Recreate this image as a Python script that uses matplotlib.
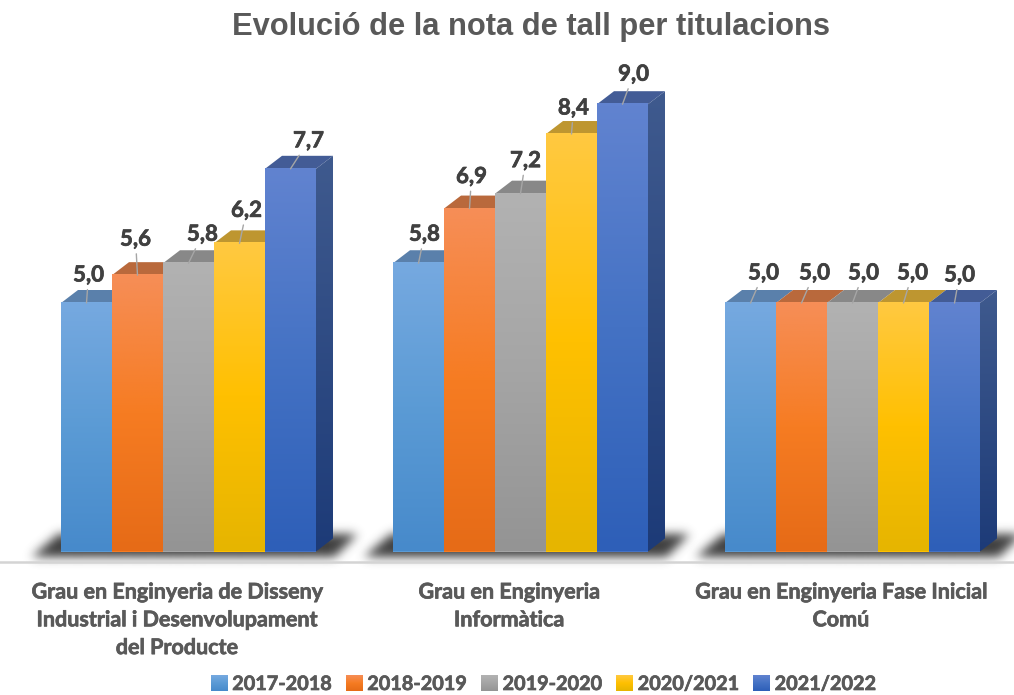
import numpy as np
import matplotlib
matplotlib.use('Agg')
import matplotlib.pyplot as plt
import matplotlib.patheffects as pe
from matplotlib.colors import LinearSegmentedColormap
from matplotlib.patches import Patch, Polygon

title = 'Evolució de la nota de tall per titulacions'
categories = ['Grau en Enginyeria de Disseny\nIndustrial i Desenvolupament\ndel Producte',
              'Grau en Enginyeria\nInformàtica',
              'Grau en Enginyeria Fase Inicial\nComú']
years = ['2017-2018', '2018-2019', '2019-2020', '2020/2021', '2021/2022']
v_2017 = [5.0, 5.8, 5.0]
v_2018 = [5.56, 6.9, 5.0]
v_2019 = [5.8, 7.2, 5.0]
v_2020 = [6.2, 8.4, 5.0]
v_2021 = [7.7, 9.0, 5.0]
series = [v_2017, v_2018, v_2019, v_2020, v_2021]

# front gradient top/mid/bottom, then top face and side face
front_cols = [['#76A9E0', '#5B9BD5', '#478ACB'],
              ['#F68E57', '#F67C22', '#E66B17'],
              ['#B2B2B2', '#A5A5A5', '#949494'],
              ['#FFC941', '#FFC000', '#E6B500'],
              ['#6183D0', '#4472C4', '#2E5FB8']]
top_cols = ['#5A80AB', '#B9693C', '#888888', '#BE9630', '#435C96']
legend_cols = ['#5B9BD5', '#F67C22', '#A5A5A5', '#FFC000', '#4472C4']
side_top, side_bot = '#3F5A8E', '#1D3B78'

# label offset from the front top of each bar, in pixels
label_off = [[(2, 28), (-2, 36), (14, 29), (7, 33), (18, 28)],
             [(6, 29), (2, 32), (5, 33), (2, 26), (11, 30)],
             [(13, 30), (13, 30), (11, 30), (9, 30), (5, 28)]]

W, H = 1014, 695
PX_X = 332.0      # pixels per category
PX_Y = 49.7       # pixels per grade point
X0, Y0 = 188.5, 551.5  # pixel position of first group centre / zero line
bar_w = 51 / PX_X
dx = 17 / PX_X
dy = 13 / PX_Y

fig = plt.figure(figsize=(W / 100, H / 100), dpi=100)
ax = fig.add_axes([0, 0, 1, 1])
ax.axis('off')


def gradient(cols, extent, zorder):
    cmap = LinearSegmentedColormap.from_list('g', cols)
    img = np.linspace(0, 1, 128).reshape(-1, 1)
    return ax.imshow(img, cmap=cmap, extent=extent, aspect='auto', origin='upper',
                     zorder=zorder, interpolation='bilinear')


def blur(a, s):
    t = np.arange(-3 * s, 3 * s + 1)
    k = np.exp(-t ** 2 / (2.0 * s ** 2))
    k = k / k.sum()
    a = np.apply_along_axis(lambda r: np.convolve(r, k, mode='same'), 0, a)
    a = np.apply_along_axis(lambda r: np.convolve(r, k, mode='same'), 1, a)
    return a


# soft shadow under a group
def shadow(center):
    rows, cols = 62, 400
    yy, xx = np.mgrid[0:rows, 0:cols]
    t = (yy - 19) / 22.0
    left = 64 - 26 * t
    right = 362 - 22 * t
    mask = ((yy >= 19) & (yy <= 41) & (xx >= left) & (xx <= right)).astype(float)
    alpha = blur(mask, 5) * 0.95
    rgba = np.zeros((rows, cols, 4))
    rgba[..., :3] = 0.2
    rgba[..., 3] = alpha
    x_left = center - 195 / PX_X
    ax.imshow(rgba, extent=[x_left, x_left + cols / PX_X, -26 / PX_Y, 36 / PX_Y],
              aspect='auto', origin='upper', zorder=1, interpolation='bilinear')


x = np.arange(len(categories))
n = len(series)
for g in x:
    shadow(g)

# lato bold comes out a bit light next to the reference, thicken it
heavy = [pe.withStroke(linewidth=0.5, foreground='#595959')]
heavy_dark = [pe.withStroke(linewidth=0.5, foreground='#404040')]

z = 2
for i in range(n):
    pos = x + (i - (n - 1) / 2) * bar_w
    bars = ax.bar(pos, series[i], width=bar_w, color=legend_cols[i], zorder=z + 1, linewidth=0)
    for g, b in enumerate(bars):
        l, r, h = b.get_x(), b.get_x() + b.get_width(), b.get_height()
        ax.add_patch(Polygon([(l, h), (r, h), (r + dx, h + dy), (l + dx, h + dy)],
                             closed=True, fc=top_cols[i], ec='none', zorder=z))
        if i == n - 1:
            side = Polygon([(r, 0), (r + dx, dy), (r + dx, h + dy), (r, h)],
                           closed=True, fc='none', ec='none', zorder=z)
            ax.add_patch(side)
            im = gradient([side_top, side_bot], [r, r + dx, 0, h + dy], z)
            im.set_clip_path(side)
        gradient(front_cols[i], [l, r, 0, h], z + 1.5)
        ox, oy = label_off[g][i]
        ax.annotate(f'{h:.1f}'.replace('.', ','), xy=((l + r) / 2, h),
                    xytext=(ox * 0.72, oy * 0.72), textcoords='offset points',
                    ha='center', va='center', fontsize=16, fontweight='bold',
                    family='Lato', color='#404040', zorder=40, path_effects=heavy_dark,
                    arrowprops=dict(arrowstyle='-', color='#A6A6A6', lw=1.0,
                                    shrinkA=1, shrinkB=0, zorder=39))
    z += 3

# category axis line
ax.axhline(-10 / PX_Y, color='#D4D4D4', lw=1.8, zorder=1)

for g, name in zip(x, categories):
    ax.text(g - 11.5 / PX_X, -30 / PX_Y, name, ha='center', va='top', fontsize=15.5,
            fontweight='bold', family='Lato', color='#595959', linespacing=1.4,
            path_effects=heavy)

ax.text(531.5 / W, 1 - 27.5 / H, title, transform=ax.transAxes, ha='center', va='center',
        fontsize=22.2, fontweight='bold', family='Liberation Sans', color='#595959')

handles = [Patch(fc=c, ec='none', label=y) for c, y in zip(legend_cols, years)]
leg = ax.legend(handles=handles, ncol=5, loc='center', bbox_to_anchor=(543.5 / W, 1 - 684 / H),
                bbox_transform=ax.transAxes, frameon=False, handlelength=0.85, handleheight=0.85,
                handletextpad=0.22, columnspacing=0.72, borderpad=0,
                prop={'family': 'Lato', 'weight': 'bold', 'size': 14.3}, labelcolor='#595959')
leg.set_zorder(50)
for t in leg.get_texts():
    t.set_path_effects(heavy)

ax.set_xlim(-X0 / PX_X, (W - X0) / PX_X)
ax.set_ylim((Y0 - H) / PX_Y, Y0 / PX_Y)

# legend swatches get the same gradient as the bars
fig.canvas.draw()
for p, cols in zip(leg.get_patches(), front_cols):
    bb = p.get_window_extent().transformed(ax.transData.inverted())
    gradient(cols, [bb.x0, bb.x1, bb.y0, bb.y1], 60)

ax.set_xlim(-X0 / PX_X, (W - X0) / PX_X)
ax.set_ylim((Y0 - H) / PX_Y, Y0 / PX_Y)
fig.savefig('out.png', dpi=100, facecolor='white')
